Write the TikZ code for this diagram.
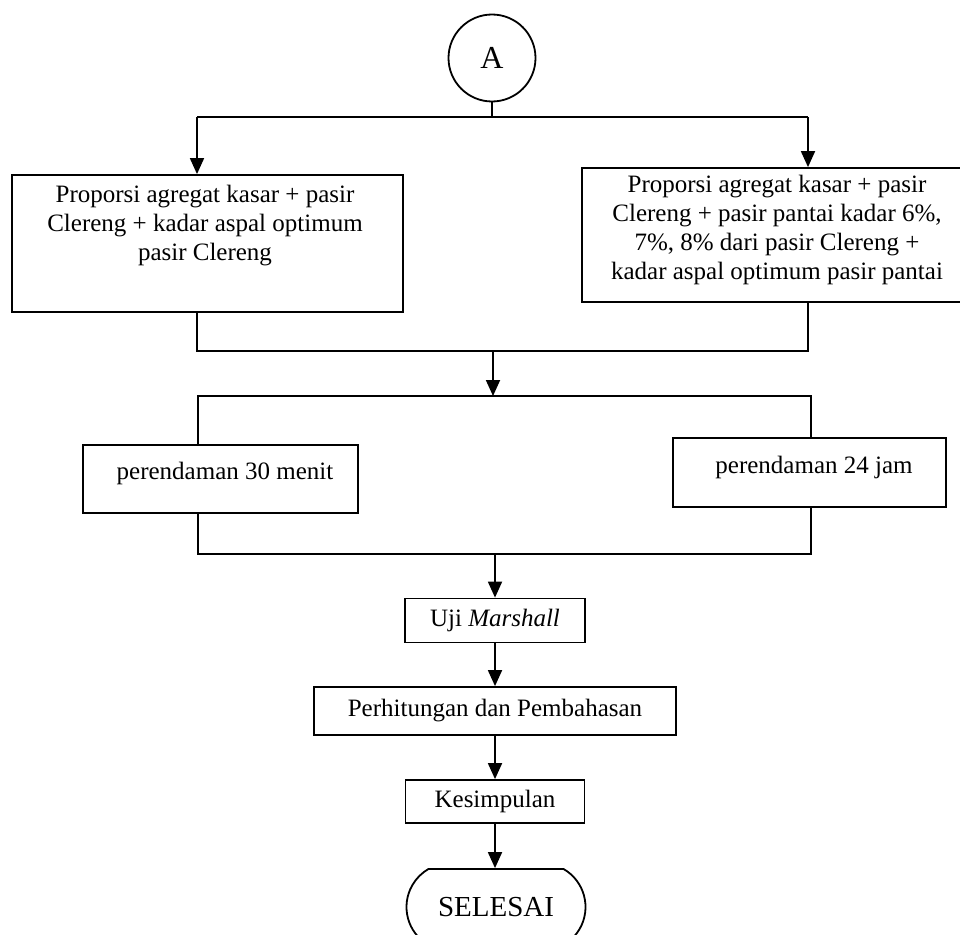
\documentclass[tikz,border=0pt]{standalone}
\usepackage{fontspec}
\setmainfont{Liberation Serif}
\usetikzlibrary{arrows.meta,calc,shapes.misc}
\begin{document}
\begin{tikzpicture}[x=1pt,y=-1pt,
  line width=1.8pt,
  box/.style={draw, rectangle, inner sep=0pt},
  txt/.style={align=center, font=\fontsize{25}{29}\selectfont, inner sep=0pt},
  arr/.style={-{Triangle[width=14pt,length=16pt]}},
]
\useasboundingbox (0,0) rectangle (960,934);

% start connector
\node[draw, circle, minimum size=87pt, inner sep=0pt, font=\fontsize{32}{36}\selectfont] (A) at (492,58) {A};

% first level boxes
\node[box, minimum width=391pt, minimum height=137pt] (lbox) at (207.5,243.5) {};
\node[txt] (lboxt) at (205,226) {Proporsi agregat kasar + pasir\\Clereng + kadar aspal optimum\\pasir Clereng};
\node[box, minimum width=384pt, minimum height=134pt] (rbox) at (774,235) {};
\node[txt] (rboxt) at (777,230) {Proporsi agregat kasar + pasir\\Clereng + pasir pantai kadar 6\%,\\7\%, 8\% dari pasir Clereng +\\kadar aspal optimum pasir pantai};

% soaking boxes
\node[box, minimum width=275pt, minimum height=68pt] (m30) at (220.5,479) {};
\node[txt] (m30t) at (225,473) {perendaman 30 menit};
\node[box, minimum width=273pt, minimum height=69pt] (m24) at (809.5,472.5) {};
\node[txt] (m24t) at (814,467) {perendaman 24 jam};

% lower chain
\node[box, txt, draw, inner sep=0pt, minimum width=180pt, minimum height=44pt] (uji) at (495,620.5) {Uji \textit{Marshall}};
\node[box, txt, draw, inner sep=0pt, minimum width=362pt, minimum height=48pt] (hit) at (495,711) {Perhitungan dan Pembahasan};
\node[box, txt, draw, inner sep=0pt, minimum width=179pt, minimum height=43pt] (kes) at (495,801.5) {Kesimpulan};
\node[draw, rounded rectangle, rounded rectangle arc length=120, inner sep=0pt, minimum width=179pt, minimum height=76pt, font=\fontsize{29}{33}\selectfont] (sel) at (496,907) {SELESAI};

% top split
\coordinate (t0) at (492,117);
\coordinate (tl) at (197,117);
\coordinate (tr) at (808,117);
\draw (A.south) -- (t0);
\draw (tl) -- (tr);
\draw[arr] (tl) -- (tl |- lbox.north);
\draw[arr] (tr) -- (tr |- rbox.north);

% merge
\coordinate (ml) at (197,351);
\coordinate (mr) at (808,351);
\coordinate (mc) at (493,351);
\draw (ml |- lbox.south) -- (ml) -- (mr) -- (mr |- rbox.south);

% split to soaking
\coordinate (sl) at (198,396);
\coordinate (sr) at (811,396);
\coordinate (sc) at (493,396);
\draw[arr] (mc) -- (sc);
\draw (sl |- m30.north) -- (sl) -- (sr) -- (sr |- m24.north);

% merge after soaking
\coordinate (bl) at (198,554);
\coordinate (br) at (811,554);
\coordinate (bc) at (495,554);
\draw (bl |- m30.south) -- (bl) -- (br) -- (br |- m24.south);
\draw[arr] (bc) -- (uji.north);
\draw[arr] (uji.south) -- (hit.north);
\draw[arr] (hit.south) -- (kes.north);
\draw[arr] (kes.south) -- (kes.south |- sel.north);
\end{tikzpicture}
\end{document}
